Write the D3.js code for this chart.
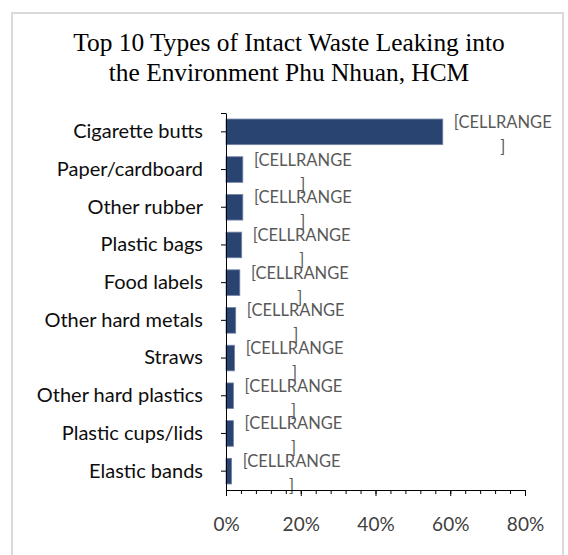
<!DOCTYPE html>
<html>
<head>
<meta charset="utf-8">
<script src="https://cdn.jsdelivr.net/npm/d3@7"></script>
<style>
  html, body { margin: 0; padding: 0; background: #fff; }
  svg { display: block; }
</style>
</head>
<body>
<svg id="chart" width="568" height="555"></svg>
<script>
// Share of intact waste items by type (fraction of all items counted)
const categories = [
  "Cigarette butts",
  "Paper/cardboard",
  "Other rubber",
  "Plastic bags",
  "Food labels",
  "Other hard metals",
  "Straws",
  "Other hard plastics",
  "Plastic cups/lids",
  "Elastic bands"
];
const shares = [0.58, 0.045, 0.045, 0.042, 0.037, 0.026, 0.023, 0.020, 0.020, 0.015];
const xTicks = [0, 0.2, 0.4, 0.6, 0.8];
const titleLines = [
  "Top 10 Types of Intact Waste Leaking into",
  "the Environment Phu Nhuan, HCM"
];
const dataLabelLines = ["[CELLRANGE", "]"];

const svg = d3.select("#chart");

// Chart frame
svg.append("rect")
  .attr("x", 12).attr("y", 13)
  .attr("width", 551).attr("height", 560)
  .attr("fill", "#fff")
  .attr("stroke", "#d9d9d9")
  .attr("stroke-width", 2);

// Title
const title = svg.append("text")
  .attr("text-anchor", "middle")
  .attr("font-family", "'Liberation Serif', 'Times New Roman', serif")
  .attr("font-size", 25.4)
  .attr("fill", "#000");
titleLines.forEach((t, i) => {
  title.append("tspan")
    .attr("x", 289)
    .attr("y", 51 + i * 30)
    .text(t);
});

// Scales
const plot = { left: 226, right: 525, top: 113, bottom: 490 };
const x = d3.scaleLinear().domain([0, 0.8]).range([plot.left, plot.right]);
const y = d3.scaleBand()
  .domain(categories)
  .range([plot.top, plot.bottom])
  .paddingInner(0.32)
  .paddingOuter(0.16);

// Bars
const data = categories.map((c, i) => ({ c, v: shares[i] }));
svg.append("g").selectAll("rect")
  .data(data)
  .join("rect")
  .attr("x", x(0))
  .attr("y", d => y(d.c))
  .attr("width", d => x(d.v) - x(0))
  .attr("height", y.bandwidth())
  .attr("fill", "#2a4471")
  .attr("stroke", "#7486a8")
  .attr("stroke-width", 0.8);

// Data labels (outside end, wrapped onto two lines)
const labelFont = "Lato, 'Open Sans', sans-serif";
const lab = svg.append("g")
  .attr("font-family", labelFont)
  .attr("font-size", 16.5)
  .attr("fill", "#595959")
  .attr("text-anchor", "middle");
data.forEach(d => {
  const cx = x(d.v) + 13 + 47;
  const cy = y(d.c) + y.bandwidth() / 2;
  const t = lab.append("text");
  t.append("tspan").attr("x", cx).attr("y", cy - 4).text(dataLabelLines[0]);
  t.append("tspan").attr("x", cx).attr("y", cy + 21).text(dataLabelLines[1]);
});

// Category axis
const yAxis = svg.append("g")
  .attr("transform", `translate(${plot.left},0)`)
  .call(d3.axisLeft(y).tickSize(5).tickSizeOuter(0).tickPadding(18));
yAxis.select(".domain").attr("stroke", "#000");
yAxis.selectAll(".tick line").attr("stroke", "#000");
yAxis.selectAll(".tick text")
  .attr("font-family", labelFont)
  .attr("font-size", 20)
  .attr("fill", "#0d0d0d");
// cap tick at the top of the category axis
yAxis.append("line")
  .attr("x1", -5).attr("x2", 0)
  .attr("y1", plot.top + 0.5).attr("y2", plot.top + 0.5)
  .attr("stroke", "#000");

// Value axis: minor ticks every 4%, major every 20%
const xg = svg.append("g").attr("transform", `translate(0,${plot.bottom})`);
xg.append("g")
  .call(d3.axisBottom(x).tickValues(d3.range(0, 0.8001, 0.04)).tickSize(4).tickFormat(""))
  .call(g => g.select(".domain").remove())
  .selectAll("line").attr("stroke", "#000");
const xAxis = xg.append("g")
  .call(d3.axisBottom(x).tickValues(xTicks).tickSize(6).tickSizeOuter(0)
    .tickPadding(22).tickFormat(d3.format(".0%")));
xAxis.select(".domain").attr("stroke", "#000");
xAxis.selectAll(".tick line").attr("stroke", "#000");
xAxis.selectAll(".tick text")
  .attr("font-family", labelFont)
  .attr("font-size", 19)
  .attr("fill", "#404040");
</script>
</body>
</html>
